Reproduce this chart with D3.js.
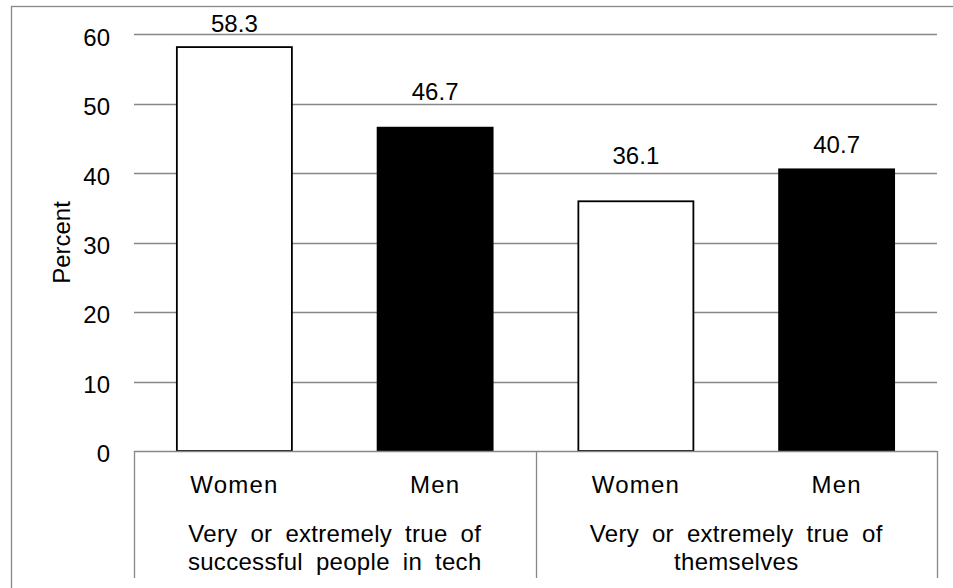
<!DOCTYPE html>
<html>
<head>
<meta charset="utf-8">
<script src="https://cdn.jsdelivr.net/npm/d3@7"></script>
<style>
  html, body { margin: 0; padding: 0; background: #fff; }
  svg { display: block; font-family: Arial, "Liberation Sans", sans-serif; }
</style>
</head>
<body>
<svg id="chart" width="953" height="588"></svg>
<script>
// Share of respondents (percent) by group and gender
const groupLines = [
  ["Very or extremely true of", "successful people in tech"],
  ["Very or extremely true of", "themselves"]
];
const genders = ["Women", "Men"];
const womenValues = [58.3, 36.1];
const menValues = [46.7, 40.7];
const yTicks = [0, 10, 20, 30, 40, 50, 60];

// Flatten into one row per bar, in drawing order
const bars = [];
groupLines.forEach((g, gi) => {
  bars.push({ key: gi + "-Women", gender: genders[0], value: womenValues[gi], group: gi });
  bars.push({ key: gi + "-Men", gender: genders[1], value: menValues[gi], group: gi });
});

// Layout
const plotLeft = 134, plotRight = 937, plotTop = 34.3, plotBottom = 451;
const axisBottom = 578;
const gridColor = "#878787";
const fontSize = 24;
// vertical gap between each bar top and its value label baseline
const labelGap = [14, 27, 36, 15];

const svg = d3.select("#chart");

// Outer chart frame
svg.append("rect")
  .attr("x", 11.5).attr("y", 6.5)
  .attr("width", 1000).attr("height", 1000)
  .attr("fill", "none")
  .attr("stroke", gridColor)
  .attr("stroke-width", 1.3);

const x = d3.scaleBand()
  .domain(bars.map(d => d.key))
  .range([plotLeft, plotRight])
  .paddingInner(0.427)
  .paddingOuter(0.2135);

const y = d3.scaleLinear()
  .domain([0, 60])
  .range([plotBottom, plotTop]);

// Horizontal gridlines
svg.append("g")
  .selectAll("line")
  .data(yTicks.filter(t => t > 0))
  .join("line")
  .attr("x1", plotLeft).attr("x2", plotRight)
  .attr("y1", d => Math.round(y(d)) + 0.5)
  .attr("y2", d => Math.round(y(d)) + 0.5)
  .attr("stroke", gridColor)
  .attr("stroke-width", 1.3);

// Y axis tick labels
const yAxis = d3.axisLeft(y)
  .tickValues(yTicks)
  .tickSize(0)
  .tickPadding(0)
  .tickFormat(d3.format("d"));
const yG = svg.append("g")
  .attr("transform", "translate(110,0)")
  .call(yAxis);
yG.select(".domain").remove();
yG.selectAll("text")
  .attr("font-size", fontSize)
  .attr("font-family", "Arial, 'Liberation Sans', sans-serif")
  .attr("fill", "#000")
  .attr("dy", "0.45em");

// Y axis title
svg.append("text")
  .attr("transform", "translate(70,242.5) rotate(-90)")
  .attr("text-anchor", "middle")
  .attr("font-size", fontSize)
  .attr("fill", "#000")
  .text("Percent");

// Bars (stroke kept inside the value height)
svg.append("g")
  .selectAll("rect")
  .data(bars)
  .join("rect")
  .attr("x", d => x(d.key))
  .attr("y", d => y(d.value) + 1)
  .attr("width", x.bandwidth())
  .attr("height", d => y(0) - y(d.value) - 1)
  .attr("fill", d => d.gender === "Men" ? "#000" : "#fff")
  .attr("stroke", "#000")
  .attr("stroke-width", 1.8);

// Value labels
svg.append("g")
  .selectAll("text")
  .data(bars)
  .join("text")
  .attr("x", d => x(d.key) + x.bandwidth() / 2)
  .attr("y", (d, i) => y(d.value) - labelGap[i])
  .attr("text-anchor", "middle")
  .attr("font-size", fontSize)
  .attr("fill", "#000")
  .text(d => d.value.toFixed(1));

// Category axis: baseline and group separators
const catAxis = svg.append("g");
catAxis.append("line")
  .attr("x1", plotLeft).attr("x2", plotRight)
  .attr("y1", plotBottom + 0.5).attr("y2", plotBottom + 0.5)
  .attr("stroke", gridColor).attr("stroke-width", 1.3);

const groupEdges = [plotLeft, (plotLeft + plotRight) / 2, plotRight];
catAxis.selectAll("line.sep")
  .data(groupEdges)
  .join("line")
  .attr("class", "sep")
  .attr("x1", d => Math.round(d) + 0.5).attr("x2", d => Math.round(d) + 0.5)
  .attr("y1", plotBottom).attr("y2", axisBottom)
  .attr("stroke", gridColor).attr("stroke-width", 1.3);

// Inner category labels (Women / Men)
const xAxis = d3.axisBottom(x)
  .tickSize(0)
  .tickPadding(0)
  .tickFormat(k => bars.find(b => b.key === k).gender);
const xG = svg.append("g")
  .attr("transform", `translate(0,${plotBottom})`)
  .call(xAxis);
xG.select(".domain").remove();
xG.selectAll("text")
  .attr("font-size", fontSize)
  .attr("font-family", "Arial, 'Liberation Sans', sans-serif")
  .attr("fill", "#000")
  .attr("dy", null)
  .attr("y", 42)
  .attr("letter-spacing", "1.2px");

// Outer group labels
const groupText = svg.append("g")
  .selectAll("text")
  .data(groupLines)
  .join("text")
  .attr("text-anchor", "middle")
  .attr("font-size", fontSize)
  .attr("fill", "#000")
  .attr("word-spacing", "6px")
  .attr("letter-spacing", "0.3px");
groupText.each(function (lines, gi) {
  const cx = (groupEdges[gi] + groupEdges[gi + 1]) / 2;
  d3.select(this).selectAll("tspan")
    .data(lines)
    .join("tspan")
    .attr("x", cx)
    .attr("y", (d, li) => 541.5 + li * 28.5)
    .text(d => d);
});
</script>
</body>
</html>
